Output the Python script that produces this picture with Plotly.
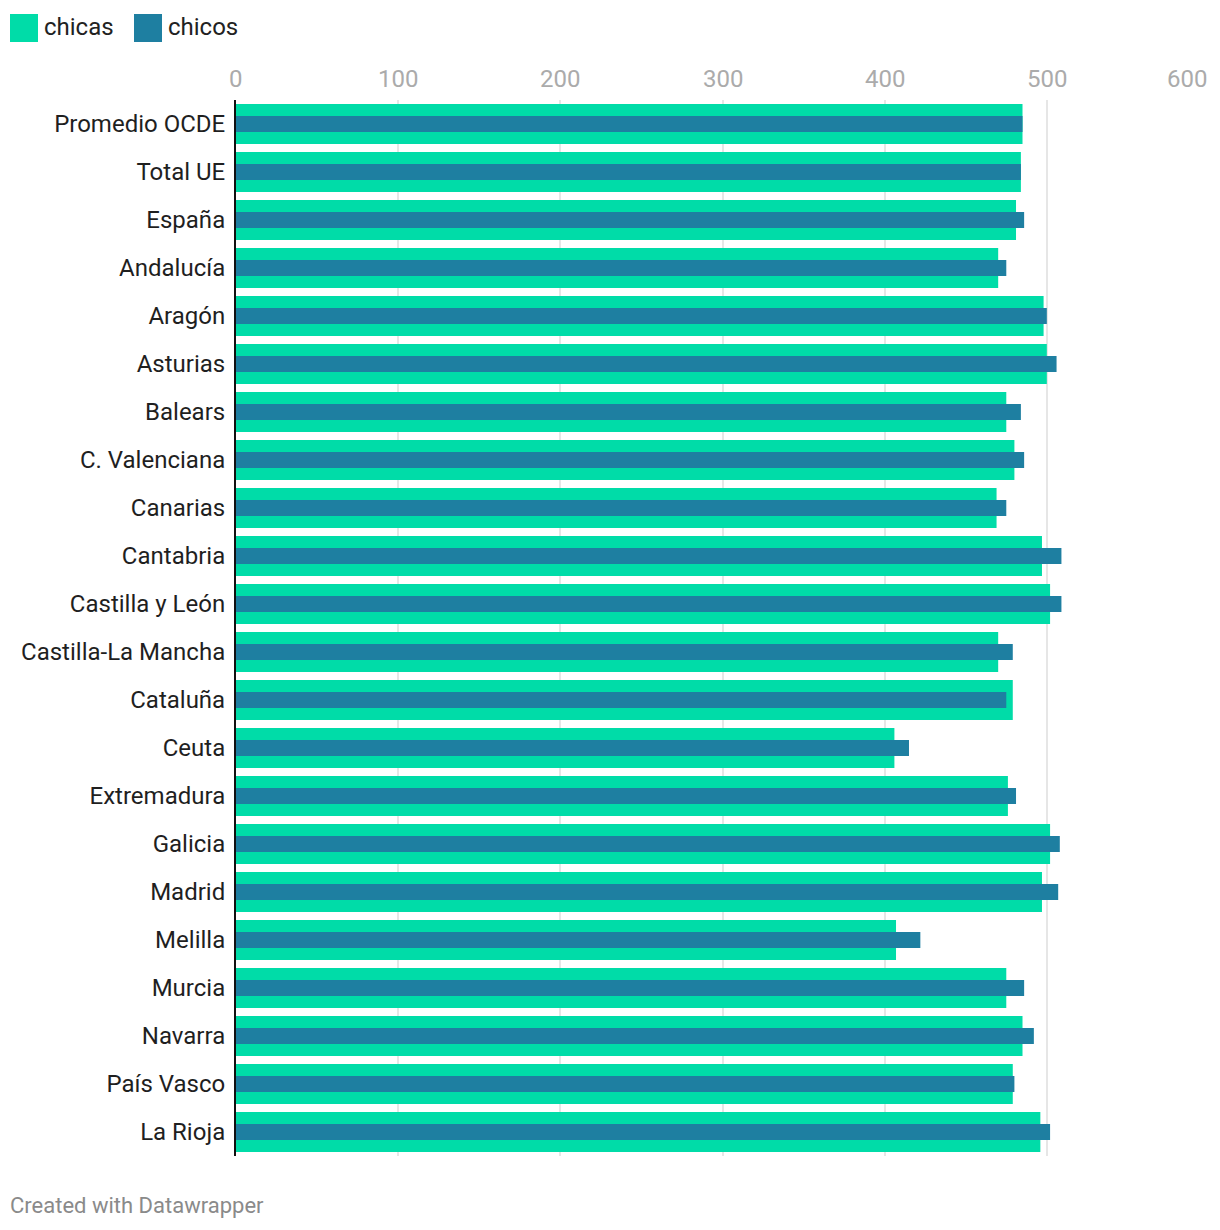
import plotly.graph_objects as go

# --- data ---
regiones = [
    'Promedio OCDE', 'Total UE', 'España', 'Andalucía', 'Aragón', 'Asturias',
    'Balears', 'C. Valenciana', 'Canarias', 'Cantabria', 'Castilla y León',
    'Castilla-La Mancha', 'Cataluña', 'Ceuta', 'Extremadura', 'Galicia',
    'Madrid', 'Melilla', 'Murcia', 'Navarra', 'País Vasco', 'La Rioja'
]
chicas = [485, 484, 481, 470, 498, 500, 475, 480, 469, 497, 502,
          470, 479, 406, 476, 502, 497, 407, 475, 485, 479, 496]
chicos = [485, 484, 486, 475, 500, 506, 484, 486, 475, 509, 509,
          479, 475, 415, 481, 508, 507, 422, 486, 492, 480, 502]
ticks = [0, 100, 200, 300, 400, 500, 600]

COL_CHICAS = '#00DCA8'
COL_CHICOS = '#1E7FA1'
FONT = 'Roboto'

# page body has an 8px margin, so the figure is a little smaller than the window
W, H = 1204, 1214
L, R, T, B = 228, 3, 92, 66
PW, PH = W - L - R, H - T - B


def px(x):
    return (x - L) / PW


def py(y):
    return 1 - (y - T) / PH


fig = go.Figure()
fig.add_trace(go.Bar(
    y=regiones, x=chicas, name='chicas', orientation='h',
    marker=dict(color=COL_CHICAS, line=dict(width=0)), width=0.833,
    hoverinfo='x+y'
))
fig.add_trace(go.Bar(
    y=regiones, x=chicos, name='chicos', orientation='h',
    marker=dict(color=COL_CHICOS, line=dict(width=0)), width=0.333,
    hoverinfo='x+y'
))

# tick labels on top (last one right-aligned like the original)
annotations = []
for t in ticks:
    annotations.append(dict(
        x=t, y=py(79 - 8), xref='x', yref='paper', text=str(t), showarrow=False,
        xanchor='right' if t == ticks[-1] else 'center', yanchor='middle',
        font=dict(family=FONT, size=24, color='#ababab')
    ))

# legend drawn by hand so the swatches are big like Datawrapper's
shapes = []
for x0, name, col in [(2, 'chicas', COL_CHICAS), (126, 'chicos', COL_CHICOS)]:
    shapes.append(dict(
        type='rect', xref='paper', yref='paper',
        x0=px(x0), x1=px(x0 + 28), y0=py(6), y1=py(34),
        fillcolor=col, line=dict(width=0)
    ))
    annotations.append(dict(
        x=px(x0 + 32), y=py(19), xref='paper', yref='paper', text=name,
        showarrow=False, xanchor='left', yanchor='middle',
        font=dict(family=FONT, size=24, color='#222222')
    ))

annotations.append(dict(
    x=px(0), y=py(1197), xref='paper', yref='paper',
    text='Created with Datawrapper', showarrow=False,
    xanchor='left', yanchor='middle',
    font=dict(family=FONT, size=22, color='#8a8a8a')
))

fig.update_layout(
    width=W, height=H,
    margin=dict(l=L, r=R, t=T, b=B, pad=0),
    barmode='overlay',
    showlegend=False,
    plot_bgcolor='white', paper_bgcolor='white',
    font=dict(family=FONT, size=24, color='#1f1f1f'),
    xaxis=dict(
        range=[0, 600], tickvals=ticks, showticklabels=False,
        showgrid=True, gridcolor='#e6e6e6', gridwidth=2,
        zeroline=False, showline=False, fixedrange=True
    ),
    yaxis=dict(
        range=[len(regiones) - 0.5, -0.5], type='category',
        showgrid=False, zeroline=False,
        showline=True, linecolor='#111111', linewidth=2,
        ticks='', ticklabelstandoff=4,
        tickfont=dict(family=FONT, size=24, color='#1f1f1f'),
        fixedrange=True
    ),
    shapes=shapes,
    annotations=annotations,
)

fig.write_html("out.html")
